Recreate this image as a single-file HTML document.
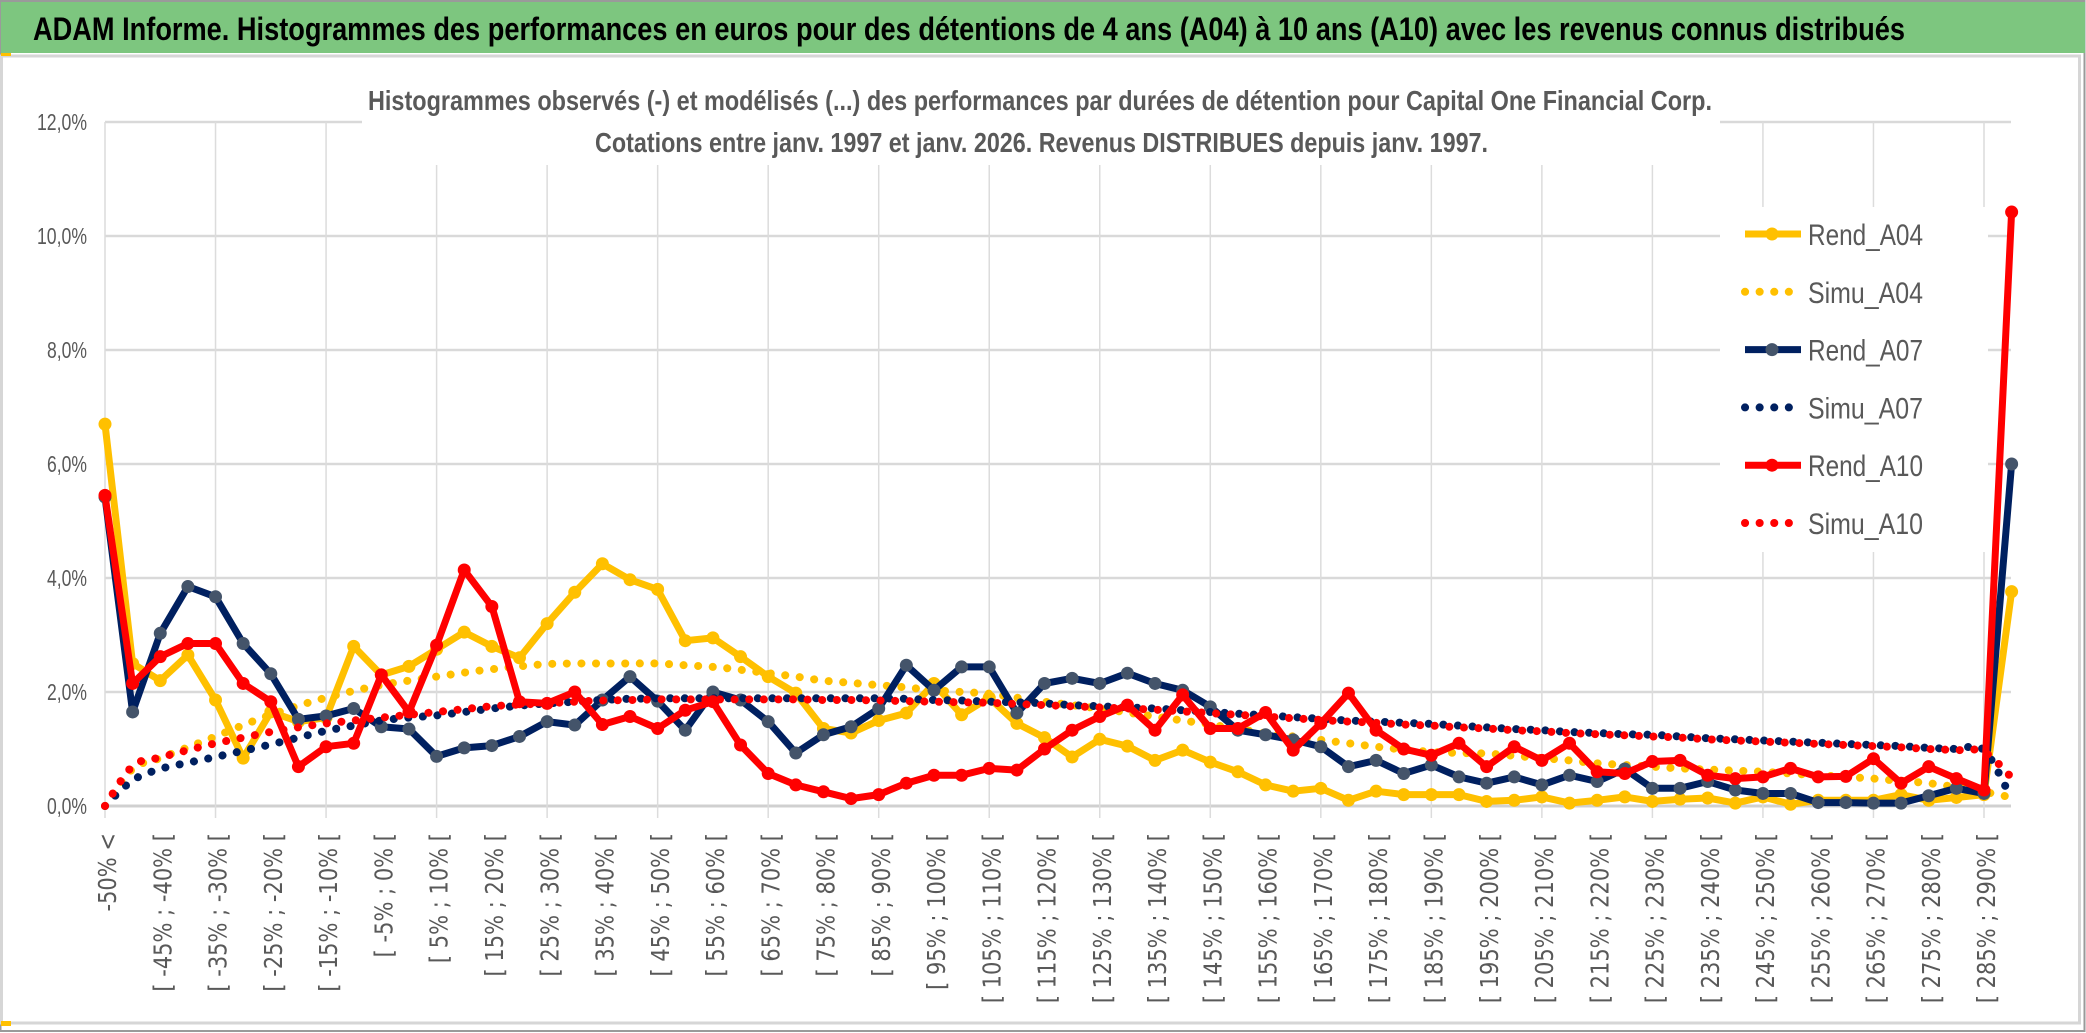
<!DOCTYPE html>
<html><head><meta charset="utf-8"><style>
html,body{margin:0;padding:0;background:#fff;}
svg{display:block;}
</style></head><body>
<svg id="chart" width="2086" height="1033" viewBox="0 0 2086 1033" xmlns="http://www.w3.org/2000/svg" font-family="Liberation Sans, sans-serif">
<rect x="0" y="0" width="2086" height="1033" fill="#fff"/>
<rect x="0.5" y="1" width="2084" height="1030" fill="none" stroke="#9a9a9a" stroke-width="2"/>
<rect x="1" y="2" width="2084" height="51" fill="#7DC67F"/>
<text x="33" y="40" font-size="32" font-weight="bold" fill="#000" textLength="1872" lengthAdjust="spacingAndGlyphs">ADAM Informe. Histogrammes des performances en euros pour des détentions de 4 ans (A04) à 10 ans (A10) avec les revenus connus distribués</text>
<rect x="1.5" y="56" width="2078" height="967" fill="none" stroke="#d6d6d6" stroke-width="3"/>
<rect x="1" y="53" width="10" height="3" fill="#FFC000"/>
<rect x="1" y="1021" width="10" height="5" fill="#FFC000"/>
<g id="grid"></g>
<rect x="362" y="100" width="1358" height="65" fill="#fff"/>
<text x="368" y="110" font-size="28" font-weight="bold" fill="#595959" textLength="1344" lengthAdjust="spacingAndGlyphs">Histogrammes observés (-) et modélisés (...) des performances par durées de détention pour Capital One Financial Corp.</text>
<text x="595" y="152" font-size="28" font-weight="bold" fill="#595959" textLength="893" lengthAdjust="spacingAndGlyphs">Cotations entre janv. 1997 et janv. 2026. Revenus DISTRIBUES depuis janv. 1997.</text>
<rect x="1720" y="207" width="268" height="345" fill="#fff"/>
<g id="yaxis"></g>
<g id="xaxis"></g>
<g id="series"></g>
<g id="legend"></g>
</svg>
<script>
const categories = (function(){const a=["-50% <"];for(let k=1;k<=68;k++){const lo=-55+5*k;a.push("[ "+lo+"% ; "+(lo+5)+"% [");}a.push("> 290%");return a;})();
const yTicks = [0,2,4,6,8,10,12];
const yTickLabels = ["0,0%","2,0%","4,0%","6,0%","8,0%","10,0%","12,0%"];
const rendA04 = [6.7,2.5,2.2,2.65,1.86,0.84,1.65,1.48,1.55,2.8,2.3,2.45,2.75,3.05,2.8,2.6,3.2,3.75,4.25,3.97,3.8,2.9,2.95,2.62,2.27,1.98,1.36,1.28,1.5,1.63,2.15,1.6,1.9,1.45,1.2,0.86,1.17,1.05,0.8,0.98,0.77,0.6,0.37,0.26,0.31,0.1,0.26,0.2,0.2,0.2,0.08,0.1,0.16,0.05,0.1,0.16,0.08,0.12,0.14,0.05,0.16,0.03,0.1,0.1,0.1,0.2,0.1,0.15,0.2,3.76];
const simuA04 = [0,0.65,0.84,1.03,1.22,1.42,1.6,1.76,1.9,2.02,2.12,2.2,2.27,2.34,2.4,2.45,2.49,2.5,2.5,2.5,2.5,2.47,2.44,2.39,2.33,2.27,2.2,2.16,2.12,2.08,2.03,2.0,1.97,1.9,1.83,1.77,1.71,1.64,1.57,1.5,1.43,1.35,1.28,1.22,1.16,1.1,1.04,0.99,0.95,0.93,0.92,0.88,0.84,0.8,0.75,0.72,0.69,0.66,0.64,0.62,0.6,0.57,0.54,0.51,0.48,0.44,0.4,0.33,0.25,0.15];
const rendA07 = [5.42,1.65,3.03,3.85,3.67,2.85,2.32,1.52,1.58,1.71,1.39,1.35,0.87,1.02,1.06,1.22,1.48,1.42,1.86,2.27,1.84,1.33,2.0,1.86,1.48,0.93,1.25,1.39,1.71,2.47,2.03,2.44,2.44,1.63,2.15,2.24,2.15,2.33,2.15,2.03,1.74,1.33,1.25,1.16,1.04,0.69,0.8,0.57,0.72,0.51,0.4,0.51,0.37,0.54,0.43,0.65,0.31,0.31,0.43,0.28,0.22,0.22,0.06,0.06,0.05,0.05,0.18,0.31,0.22,6.0];
const simuA07 = [0,0.45,0.65,0.76,0.86,0.97,1.08,1.2,1.32,1.41,1.5,1.55,1.59,1.65,1.71,1.76,1.8,1.83,1.86,1.88,1.89,1.89,1.89,1.89,1.89,1.89,1.89,1.89,1.89,1.88,1.86,1.85,1.83,1.82,1.8,1.77,1.75,1.73,1.71,1.68,1.65,1.62,1.59,1.56,1.53,1.5,1.48,1.46,1.44,1.41,1.38,1.35,1.33,1.3,1.28,1.26,1.25,1.22,1.19,1.17,1.15,1.13,1.11,1.09,1.07,1.05,1.02,1.0,0.98,0.13];
const rendA10 = [5.45,2.15,2.62,2.85,2.85,2.15,1.83,0.69,1.04,1.1,2.3,1.65,2.82,4.14,3.5,1.83,1.8,2.0,1.43,1.57,1.36,1.68,1.83,1.07,0.57,0.37,0.25,0.13,0.2,0.4,0.54,0.54,0.66,0.63,1.0,1.33,1.57,1.77,1.33,1.95,1.36,1.36,1.64,0.98,1.45,1.98,1.33,1.0,0.89,1.1,0.69,1.04,0.8,1.1,0.6,0.57,0.78,0.8,0.54,0.48,0.51,0.66,0.51,0.52,0.83,0.4,0.69,0.48,0.28,10.42];
const simuA10 = [0,0.7,0.85,0.98,1.1,1.2,1.3,1.38,1.45,1.5,1.55,1.6,1.65,1.7,1.75,1.78,1.8,1.83,1.85,1.86,1.87,1.87,1.87,1.87,1.87,1.87,1.86,1.86,1.85,1.84,1.83,1.82,1.81,1.79,1.77,1.75,1.73,1.71,1.69,1.66,1.63,1.6,1.57,1.54,1.51,1.48,1.46,1.43,1.41,1.38,1.36,1.33,1.31,1.28,1.26,1.24,1.22,1.2,1.17,1.15,1.13,1.11,1.09,1.07,1.05,1.03,1.0,0.98,0.95,0.5];

const NS="http://www.w3.org/2000/svg";
const X0=105, DX=(1984-105)/68, Y0=806, PX_PER_PCT=57;
function xScale(i){return X0+DX*i;}
function yScale(v){return Y0-v*PX_PER_PCT;}
function mk(tag,parent){const e=document.createElementNS(NS,tag);parent.appendChild(e);return e;}

const grid=document.getElementById('grid');
yTicks.forEach(function(t){
  const l=mk('line',grid);
  
  
  l.setAttribute('x1',X0);l.setAttribute('x2',2011);
  l.setAttribute('y1',yScale(t));l.setAttribute('y2',yScale(t));
  l.setAttribute('stroke',t===0?'#d0d0d0':'#d9d9d9');l.setAttribute('stroke-width',t===0?3:2.5);
});
for(let i=0;i<categories.length;i+=4){
  const l=mk('line',grid);
  
  
  l.setAttribute('x1',xScale(i));l.setAttribute('x2',xScale(i));
  l.setAttribute('y1',yScale(12));l.setAttribute('y2',Y0+12);
  l.setAttribute('stroke','#dcdcdc');l.setAttribute('stroke-width',1.5);
}

const ya=document.getElementById('yaxis');
yTicks.forEach(function(t,k){
  const tx=mk('text',ya);
  
  
  tx.setAttribute('x',87);tx.setAttribute('y',yScale(t)+8);
  tx.setAttribute('text-anchor','end');tx.setAttribute('font-size','23');
  tx.setAttribute('fill','#595959');
  tx.setAttribute('textLength',yTickLabels[k].length*10);
  tx.setAttribute('lengthAdjust','spacingAndGlyphs');
  tx.textContent=yTickLabels[k];
});

const xa=document.getElementById('xaxis');
for(let i=0;i<categories.length-1;i+=2){
  const tx=mk('text',xa);
  
  
  tx.setAttribute('transform','translate('+(xScale(i)+3)+',833) scale(1.2,1) rotate(-90)');
  tx.setAttribute('text-anchor','end');tx.setAttribute('dominant-baseline','central');
  tx.setAttribute('font-family','DejaVu Sans, sans-serif');tx.setAttribute('font-size','21');
  tx.setAttribute('fill','#595959');
  tx.textContent=categories[i];
}

const ser=document.getElementById('series');
function pathD(arr){return arr.map(function(v,i){return (i?'L':'M')+xScale(i).toFixed(1)+' '+yScale(v).toFixed(1);}).join(' ');}
function smoothD(arr){
  let d='M'+xScale(0)+' '+yScale(arr[0]);
  for(let i=0;i<arr.length-1;i++){
    const p0=[xScale(Math.max(i-1,0)),yScale(arr[Math.max(i-1,0)])],p1=[xScale(i),yScale(arr[i])],p2=[xScale(i+1),yScale(arr[i+1])],p3=[xScale(Math.min(i+2,arr.length-1)),yScale(arr[Math.min(i+2,arr.length-1)])];
    const c1=[p1[0]+(p2[0]-p0[0])/6,p1[1]+(p2[1]-p0[1])/6],c2=[p2[0]-(p3[0]-p1[0])/6,p2[1]-(p3[1]-p1[1])/6];
    d+=' C'+c1[0].toFixed(1)+' '+c1[1].toFixed(1)+' '+c2[0].toFixed(1)+' '+c2[1].toFixed(1)+' '+p2[0].toFixed(1)+' '+p2[1].toFixed(1);
  }
  return d;
}
function rend(arr,color,mcolor,name){
  const g=mk('g',ser);
  
  
  const p=mk('path',g);
  
  
  p.setAttribute('d',pathD(arr));p.setAttribute('fill','none');
  p.setAttribute('stroke',color);p.setAttribute('stroke-width',7);p.setAttribute('stroke-linejoin','round');
  arr.forEach(function(v,i){
    const c=mk('circle',g);
    
    
    c.setAttribute('cx',xScale(i));c.setAttribute('cy',yScale(v));c.setAttribute('r',6.5);
    c.setAttribute('fill',mcolor);
  });
}
function simu(arr,color,name){
  const p=mk('path',ser);
  
  
  p.setAttribute('d',smoothD(arr));p.setAttribute('fill','none');
  p.setAttribute('stroke',color);p.setAttribute('stroke-width',8);
  p.setAttribute('stroke-linecap','round');p.setAttribute('stroke-dasharray','0.1 14.5');
}
rend(rendA04,'#FFC000','#FFC000','rend-a04');
simu(simuA04,'#FFC000','simu-a04');
rend(rendA07,'#002060','#44546A','rend-a07');
simu(simuA07,'#002060','simu-a07');
rend(rendA10,'#FF0000','#FF0000','rend-a10');
simu(simuA10,'#FF0000','simu-a10');

const legendNames=['Rend_A04','Simu_A04','Rend_A07','Simu_A07','Rend_A10','Simu_A10'];
const legendColors=['#FFC000','#FFC000','#002060','#002060','#FF0000','#FF0000'];
const lg=document.getElementById('legend');
legendNames.forEach(function(n,k){
  const y=234+k*57.8;
  const g=mk('g',lg);
  
  
  const l=mk('line',g);
  
  
  l.setAttribute('x1',1745);l.setAttribute('x2',1801);l.setAttribute('y1',y);l.setAttribute('y2',y);
  l.setAttribute('stroke',legendColors[k]);
  if(k%2===0){
    l.setAttribute('stroke-width',7);
    const c=mk('circle',g);
    
    
    c.setAttribute('cx',1772);c.setAttribute('cy',y);c.setAttribute('r',6.5);
    c.setAttribute('fill',k===2?'#44546A':legendColors[k]);
  } else {
    l.setAttribute('stroke-width',8);l.setAttribute('stroke-linecap','round');l.setAttribute('stroke-dasharray','0.1 14.5');
  }
  const t=mk('text',g);
  
  
  t.setAttribute('x',1808);t.setAttribute('y',y+11);
  t.setAttribute('font-size','30');t.setAttribute('fill','#595959');
  t.setAttribute('textLength',115);t.setAttribute('lengthAdjust','spacingAndGlyphs');
  t.textContent=n;
});
</script>
</body></html>
